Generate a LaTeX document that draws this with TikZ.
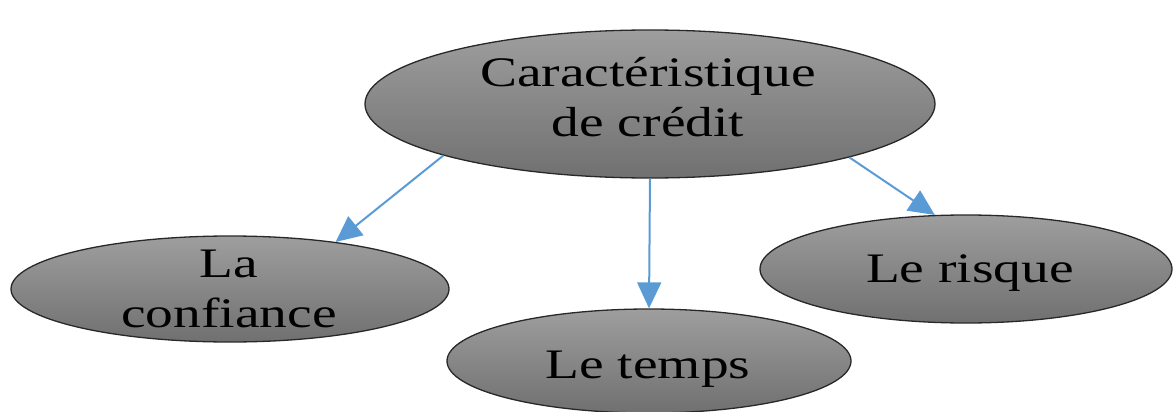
\documentclass[tikz,border=0pt]{standalone}
\usepackage{fontspec}
\setmainfont{Liberation Serif}
\newfontfamily\widefont[FakeStretch=1.32]{Liberation Serif}
\usetikzlibrary{shapes.geometric,arrows.meta}
\definecolor{arrowblue}{RGB}{91,155,213}
\definecolor{edgegray}{RGB}{40,40,40}
\definecolor{topgray}{RGB}{158,158,158}
\definecolor{botgray}{RGB}{112,112,112}
\tikzset{
  bubble/.style={ellipse, draw=edgegray, line width=1.3pt, top color=topgray, bottom color=botgray, inner sep=0pt},
  lbl/.style={inner sep=0pt, align=center, font=\widefont\fontsize{42}{50}\selectfont},
  link/.style={draw=arrowblue, line width=2pt, -{Triangle[length=26pt,width=24pt]}}
}
\begin{document}
\begin{tikzpicture}[x=1pt,y=-1pt]
\useasboundingbox (0,0) rectangle (1173,412);
\node[bubble, minimum width=570pt, minimum height=148pt] (top) at (650,104) {};
\node[bubble, minimum width=438pt, minimum height=106pt] (conf) at (230,289) {};
\node[bubble, minimum width=404pt, minimum height=104pt] (temps) at (649,361) {};
\node[bubble, minimum width=412pt, minimum height=108pt] (risque) at (966,269) {};
\node[lbl] (ttop) at (648,97.5) {Caractéristique\\de crédit};
\node[lbl] (tconf) at (229,289) {La\\confiance};
\node[lbl, anchor=base] (ttemps) at (648,378) {Le temps};
\node[lbl, anchor=base] (trisque) at (970,282) {Le risque};
\draw[link] (top.194.2) -- (conf.24);
\draw[link] (top.south) -- (temps.north);
\draw[link] (top.345.8) -- (risque.120);
\end{tikzpicture}
\end{document}
